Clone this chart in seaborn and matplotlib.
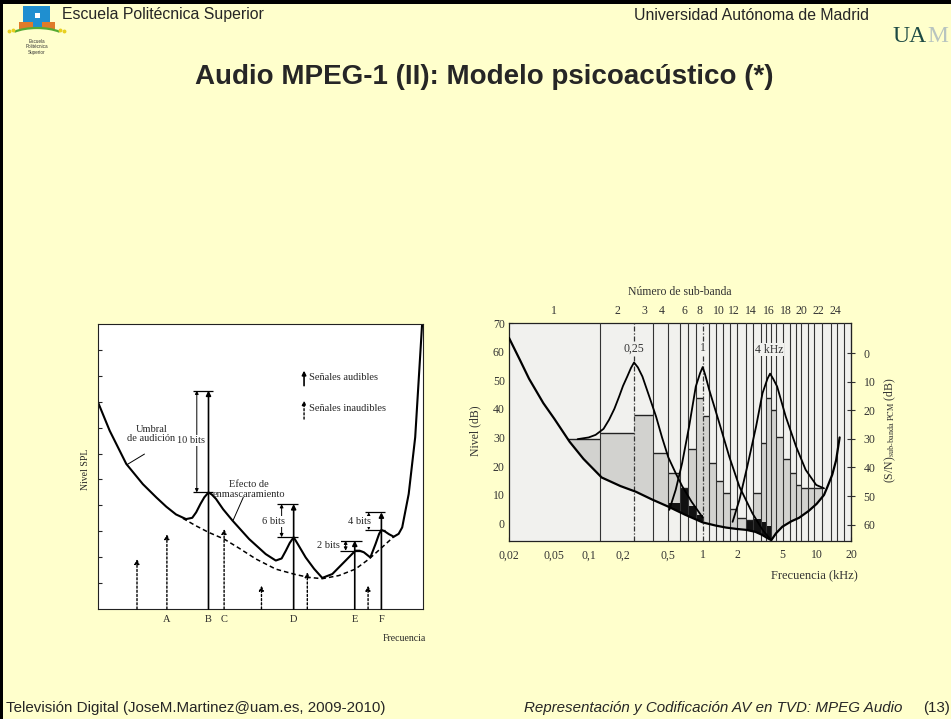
import matplotlib
matplotlib.use("Agg")
import numpy as np
import matplotlib.pyplot as plt
import matplotlib.patches as mpatches
import seaborn as sns

# ---------------- left figure (arbitrary units) ----------------
umbral_x = [0, 3.6, 8.7, 13.8, 18.0, 21.0, 24.0, 27.1, 29.0, 30.2, 31.5, 32.7, 34.0, 35.0,
            36.3, 38.5, 41.4, 46.5, 51.6, 54.7, 56.5, 57.8, 59.0, 60.2, 61.5, 63.9, 66.5,
            69.0, 72.1, 76.2, 78.0, 79.2, 80.5, 81.8, 83.8, 85.4, 86.5, 87.2, 88.2, 89.5,
            91.0, 92.5, 93.6, 95.6, 97.6, 99.7]
umbral_y = [7.98, 6.88, 5.60, 4.82, 4.30, 3.95, 3.65, 3.47, 3.52, 3.73, 4.05, 4.31, 4.50, 4.42,
            4.25, 3.85, 3.41, 2.70, 2.12, 1.87, 1.95, 2.25, 2.55, 2.77, 2.50, 1.99, 1.55,
            1.20, 1.35, 1.87, 2.10, 2.25, 2.25, 2.19, 1.99, 2.51, 2.90, 3.05, 3.00, 2.89,
            2.79, 2.90, 3.15, 4.44, 6.63, 10.95]
quiet_x = [26.1, 30.0, 34.0, 38.8, 43.5, 48.6, 54.7, 60.8, 64.9, 69.0, 74.1, 79.2, 83.4, 87.4, 91.0]
quiet_y = [3.50, 3.22, 2.96, 2.70, 2.34, 1.93, 1.54, 1.33, 1.22, 1.17, 1.29, 1.54, 1.93, 2.38, 2.79]

senal_x = [12.0, 21.2, 34.0, 38.8, 50.3, 60.2, 64.4, 79.0, 83.1, 87.2]
senal_y = [1.93, 2.89, 8.43, 3.09, 0.90, 4.05, 1.42, 2.64, 0.90, 3.73]
senal_audible = [False, False, True, False, False, True, False, True, False, True]

letras = ["A", "B", "C", "D", "E", "F"]
letras_x = [21.2, 34.0, 38.8, 60.2, 79.0, 87.2]

bits_txt = ["10 bits", "6 bits", "2 bits", "4 bits"]
bits_x = [30.4, 56.5, 76.2, 83.3]
bits_top = [8.43, 4.05, 2.64, 3.73]
bits_bot = [4.50, 2.77, 2.25, 3.05]
bits_cap_l = [29.1, 55.2, 74.6, 82.3]
bits_cap_r = [35.5, 61.6, 81.1, 88.4]
bits_tx = [28.6, 53.9, 70.9, 80.6]
bits_ty = [6.50, 3.37, 2.47, 3.37]

# ---------------- right figure (kHz / dB) ----------------
thr_f = [0.02, 0.025, 0.03, 0.04, 0.05, 0.068, 0.09, 0.13, 0.19, 0.26, 0.36, 0.5, 0.7, 1.0,
         1.3, 1.6, 2.0, 2.4, 2.9, 3.3, 3.7, 4.0, 4.4, 5.0, 6.0, 7.0, 8.5, 10.0, 11.6, 12.5,
         13.7, 14.8, 15.9]
thr_db = [64.8, 57, 50.5, 42, 36.5, 28.5, 22.5, 16, 13, 11, 8.3, 5.8, 3.0, 0.3,
          -0.8, -1.5, -2.0, -2.3, -3.0, -4.0, -5.2, -5.9, -3.5, -1.2, 0.7, 1.9, 4.3, 6.8, 9.9, 13,
          17, 22, 30]

m025_f = [0.08, 0.1, 0.115, 0.135, 0.151, 0.168, 0.185, 0.2, 0.218, 0.235, 0.25, 0.27, 0.296,
          0.34, 0.39, 0.44, 0.5, 0.58, 0.66, 0.8, 1.0]
m025_db = [29.4, 30.0, 30.9, 33.0, 36.2, 40.0, 44.3, 48.0, 51.3, 54.3, 56.2, 54.5, 51.3,
           44.3, 37.3, 30.0, 23.0, 17.5, 13.0, 7.5, 2.0]
m1_f = [0.51, 0.58, 0.66, 0.76, 0.87, 0.95, 1.0, 1.05, 1.14, 1.4, 1.71, 2.1, 2.73, 3.35, 3.9]
m1_db = [4.7, 11.7, 21.0, 33.8, 47.8, 52.5, 54.6, 52.0, 46.7, 35.0, 23.3, 12.8, 3.5, -2.3, -5.5]
m4_f = [1.83, 2.1, 2.46, 2.94, 3.35, 3.7, 3.9, 4.15, 4.5, 5.35, 6.6, 8.0, 9.9, 11.6]
m4_db = [0.5, 8.2, 19.8, 33.8, 45.5, 50.5, 52.3, 50.5, 47.8, 37.3, 26.8, 18.7, 13.4, 12.2]

band_edges = [0.02, 0.125, 0.25, 0.37, 0.50, 0.63, 0.75, 0.88, 1.0, 1.14, 1.31, 1.51, 1.73,
              1.98, 2.4, 2.74, 3.23, 3.6, 4.0, 4.44, 5.03, 5.78, 6.6, 7.3, 8.4, 9.5, 11.2,
              13.3, 15.2, 17.3, 20.0]
band_level = [29.5, 31.7, 37.9, 24.7, 17.5, 12.2, 25.9, 43.7, 37.4, 21.0, 14.6, 10.5, 5.0,
              2.0, 1.0, 10.5, 28.0, 43.7, 39.7, 30.3, 22.4, 17.5, 13.4, 12.2, 12.2, 12.2,
              np.nan, np.nan, np.nan, np.nan]
black_level = [np.nan, np.nan, np.nan, np.nan, 7.0, 12.5, 6.0, 3.0, np.nan, np.nan, np.nan,
               np.nan, np.nan, np.nan, 1.0, 1.5, 0.5, -1.0, np.nan, np.nan, np.nan, np.nan,
               np.nan, np.nan, np.nan, np.nan, np.nan, np.nan, np.nan, np.nan]
dashdot_f = [0.25, 1.0]

subband_num = ["1", "2", "3", "4", "6", "8", "10", "12", "14", "16", "18", "20", "22", "24"]
subband_f = [0.0497, 0.1786, 0.3107, 0.4347, 0.687, 0.931, 1.377, 1.89, 2.65, 3.78, 5.37,
             7.28, 10.39, 14.56]

xticks_f = [0.02, 0.05, 0.1, 0.2, 0.5, 1, 2, 5, 10, 20]
xticks_lab = ["0,02", "0,05", "0,1", "0,2", "0,5", "1", "2", "5", "10", "20"]

# ---------------- style ----------------
sns.set_style("white")
plt.rcParams["font.family"] = ["Liberation Sans", "DejaVu Sans"]
plt.rcParams["mathtext.fontset"] = "stix"
SERIF = ["Liberation Serif", "DejaVu Serif"]
W, H = 951, 719
BG = "#ffffcc"

fig = plt.figure(figsize=(W / 100, H / 100), dpi=100, facecolor=BG)


def rect(x0, y0, x1, y1):
    return [x0 / W, 1 - y1 / H, (x1 - x0) / W, (y1 - y0) / H]


# slide frame
fig.add_artist(mpatches.Rectangle((0, 1 - 4 / H), 1, 4 / H, transform=fig.transFigure,
                                  color="black", lw=0))
fig.add_artist(mpatches.Rectangle((0, 0), 2.5 / W, 1, transform=fig.transFigure,
                                  color="black", lw=0))

# EPS logo
lg = fig.add_axes(rect(5, 5, 75, 62))
lg.set_xlim(5, 75)
lg.set_ylim(62, 5)
lg.axis("off")
lg.add_patch(mpatches.Rectangle((23, 6), 27, 17, color="#1f8fd0", lw=0))
lg.add_patch(mpatches.Rectangle((34.5, 13), 5.5, 5, color="white", lw=0))
lg.add_patch(mpatches.Rectangle((19, 22), 14, 7, color="#e07b2a", lw=0))
lg.add_patch(mpatches.Rectangle((42, 22), 13, 7, color="#e07b2a", lw=0))
lg.add_patch(mpatches.Rectangle((33, 22), 9, 7, color="#1f8fd0", lw=0))
lg.add_patch(mpatches.Arc((37, 40), 62, 24, theta1=200, theta2=340, color="#55aa33", lw=1.6))
for dx, dy in [(9, 31), (13, 30), (60, 30), (64, 31)]:
    lg.plot(dx, dy, "o", color="#e8d020", ms=1.8)
lg.text(37, 47, "Escuela\nPolitécnica\nSuperior", ha="center", va="center",
        fontsize=3.3, linespacing=1.1, color="#333333")

# header / footer / title
fig.text(62 / W, 1 - 14 / H, "Escuela Politécnica Superior", fontsize=11.4, va="center")
fig.text(869 / W, 1 - 15 / H, "Universidad Autónoma de Madrid", fontsize=11.4,
         va="center", ha="right")
fig.text(892 / W, 1 - 37 / H, "UA", fontsize=17, family=SERIF, color="#1d4a44",
         va="center")
fig.text(927 / W, 1 - 37 / H, "M", fontsize=17, family=SERIF, color="#b8c4c0",
         va="center")
fig.text(484 / W, 1 - 77 / H, "Audio MPEG-1 (II): Modelo psicoacústico (*)",
         fontsize=20, fontweight="bold", ha="center", va="center")
fig.text(6 / W, 1 - 708 / H, "Televisión Digital (JoseM.Martinez@uam.es, 2009-2010)",
         fontsize=10.9, va="center")
fig.text(524 / W, 1 - 708 / H, "Representación y Codificación AV en TVD: MPEG Audio",
         fontsize=10.9, va="center", style="italic")
fig.text(950 / W, 1 - 708 / H, "(13)", fontsize=10.9, va="center", ha="right")

# ---------------- left chart ----------------
ax = fig.add_axes(rect(98, 324, 423, 609))
ax.set_facecolor("white")
ax.set_xlim(0, 100)
ax.set_ylim(0, 11)
sns.lineplot(x=umbral_x, y=umbral_y, ax=ax, color="black", lw=1.5, sort=False,
             estimator=None)
sns.lineplot(x=quiet_x, y=quiet_y, ax=ax, color="black", lw=1.1, sort=False,
             estimator=None, linestyle=(0, (3, 2)))
for x, y, aud in zip(senal_x, senal_y, senal_audible):
    ax.annotate("", xy=(x, y), xytext=(x, 0),
                arrowprops=dict(arrowstyle="-|>", color="black", lw=1.2 if aud else 1.0,
                                ls="-" if aud else (0, (1.5, 1.5)), mutation_scale=7,
                                shrinkA=0, shrinkB=0))
for t, x, y0, y1, cl, cr, tx, ty in zip(bits_txt, bits_x, bits_bot, bits_top, bits_cap_l,
                                         bits_cap_r, bits_tx, bits_ty):
    ax.hlines([y0, y1], cl, cr, color="black", lw=0.9)
    ax.annotate("", xy=(x, y1), xytext=(x, y0),
                arrowprops=dict(arrowstyle="<|-|>", color="black", lw=0.7,
                                mutation_scale=5, shrinkA=0, shrinkB=0))
    ax.text(tx, ty, t, ha="center", va="center", fontsize=7.5, family=SERIF,
            bbox=dict(facecolor="white", edgecolor="none", pad=0.5))
# legend inside
ax.annotate("", xy=(63.4, 9.2), xytext=(63.4, 8.62),
            arrowprops=dict(arrowstyle="-|>", color="black", lw=1.2, mutation_scale=6,
                            shrinkA=0, shrinkB=0))
ax.annotate("", xy=(63.4, 8.04), xytext=(63.4, 7.33),
            arrowprops=dict(arrowstyle="-|>", color="black", lw=1.0, ls=(0, (1.5, 1.5)),
                            mutation_scale=6, shrinkA=0, shrinkB=0))
ax.text(64.9, 8.94, "Señales audibles", fontsize=7.5, family=SERIF, va="center")
ax.text(64.9, 7.72, "Señales inaudibles", fontsize=7.5, family=SERIF, va="center")
ax.text(16.4, 6.75, "Umbral\nde audición", fontsize=7.5, family=SERIF, ha="center",
        va="center", linespacing=1.1)
ax.plot([14.3, 8.9], [5.98, 5.57], color="black", lw=0.7)
ax.text(46.5, 4.62, "Efecto de\nenmascaramiento", fontsize=7.5, family=SERIF, ha="center",
        va="center", linespacing=1.1)
ax.plot([44.7, 41.6], [4.31, 3.43], color="black", lw=0.7)
ax.set_yticks(range(1, 11))
ax.set_yticklabels([])
ax.set_xticks(letras_x)
ax.set_xticklabels(letras, family=SERIF, fontsize=7.5)
ax.tick_params(axis="y", direction="in", length=3, width=0.8, left=True)
ax.tick_params(axis="x", length=0, pad=4)
ax.text(94.1, -1.12, "Frecuencia", fontsize=7, family=SERIF, ha="center", va="center")
ax.text(-0.04, 0.49, "Nivel SPL", fontsize=7, family=SERIF, rotation=90, ha="center",
        va="center", transform=ax.transAxes)
for s in ax.spines.values():
    s.set_linewidth(0.8)
    s.set_color("#222222")

# ---------------- right chart ----------------
BOX = "#f1f1ee"
ax2 = fig.add_axes(rect(509, 323, 851, 541))
ax2.set_facecolor(BOX)
ax2.set_xscale("log")
ax2.set_xlim(0.02, 20)
ax2.set_ylim(-6.2, 70)
ybot = -6.2
lefts = np.array(band_edges[:-1])
widths = np.diff(band_edges)
lev = np.array(band_level)
blk = np.array(black_level)
ok = ~np.isnan(lev)
ax2.bar(lefts[ok], lev[ok] - ybot, width=widths[ok], bottom=ybot, align="edge",
        color="#d2d2cf", lw=0, zorder=1)
okb = ~np.isnan(blk)
ax2.bar(lefts[okb], blk[okb] - ybot, width=widths[okb], bottom=ybot, align="edge",
        color="#111111", lw=0, zorder=1.2)
ax2.hlines(lev[ok], lefts[ok], lefts[ok] + widths[ok], color="#222222", lw=1.0, zorder=1.5)
ax2.fill_between(thr_f, ybot, thr_db, color=BOX, lw=0, zorder=2)
for e in band_edges[1:-1]:
    if e in dashdot_f:
        ax2.axvline(e, color="#333333", lw=0.9, ls=(0, (4, 1.5, 1, 1.5)), zorder=3)
    else:
        ax2.axvline(e, color="#333333", lw=0.8, zorder=3)
for fx, dy in [(m025_f, m025_db), (m1_f, m1_db), (m4_f, m4_db)]:
    sns.lineplot(x=fx, y=dy, ax=ax2, color="black", lw=1.3, sort=False, estimator=None,
                 zorder=4)
sns.lineplot(x=thr_f, y=thr_db, ax=ax2, color="black", lw=1.6, sort=False, estimator=None,
             zorder=4)
ax2.text(0.25, 60.9, "0,25", family=SERIF, fontsize=8.5, ha="center", va="center",
         color="#333333", zorder=5, bbox=dict(facecolor=BOX, edgecolor="none", pad=0.3))
ax2.text(1.0, 61.2, "1", family=SERIF, fontsize=8.5, ha="center", va="center",
         color="#333333", zorder=5, bbox=dict(facecolor=BOX, edgecolor="none", pad=0.3))
ax2.text(3.8, 60.7, "4 kHz", family=SERIF, fontsize=8.5, ha="center", va="center",
         color="#333333", zorder=5, bbox=dict(facecolor=BOX, edgecolor="none", pad=0.3))

ax2.set_xticks(xticks_f)
ax2.set_xticklabels(xticks_lab)
ax2.minorticks_off()
ax2.set_yticks(range(0, 71, 10))
ax2.tick_params(direction="in", length=3, width=0.8, colors="#333333", labelsize=8.5,
                left=True, bottom=True)
for lab in ax2.get_xticklabels() + ax2.get_yticklabels():
    lab.set_family(SERIF)
ax2.tick_params(axis="x", pad=6)
ax2.tick_params(axis="y", pad=3)
for s in ax2.spines.values():
    s.set_linewidth(0.9)
    s.set_color("#222222")

sec = ax2.secondary_yaxis("right", functions=(lambda y: 59.5 - y, lambda s: 59.5 - s))
sec.set_yticks(range(0, 61, 10))
sec.tick_params(direction="inout", length=6, width=0.8, colors="#333333", labelsize=8.5,
                pad=6)
for lab in sec.get_yticklabels():
    lab.set_family(SERIF)

for n, f in zip(subband_num, subband_f):
    ax2.text(f, 1.055, n, transform=ax2.get_xaxis_transform(), family=SERIF, fontsize=8.5,
             ha="center", va="center", color="#333333")
ax2.text(0.5, 1.142, "Número de sub-banda", transform=ax2.transAxes, family=SERIF,
         fontsize=8.5, ha="center", va="center", color="#333333")
ax2.text(1.02, -0.156, "Frecuencia (kHz)", transform=ax2.transAxes, family=SERIF,
         fontsize=9, ha="right", va="center", color="#333333")
ax2.text(-0.1, 0.505, "Nivel (dB)", transform=ax2.transAxes, family=SERIF, fontsize=8.5,
         rotation=90, ha="center", va="center", color="#333333")
ax2.text(1.114, 0.51, r"(S/N)$_{\mathrm{sub\text{-}banda\ PCM}}$ (dB)",
         transform=ax2.transAxes, family=SERIF, fontsize=8.5, rotation=90, ha="center",
         va="center", color="#333333")

fig.savefig("out.png", dpi=100, facecolor=BG)
